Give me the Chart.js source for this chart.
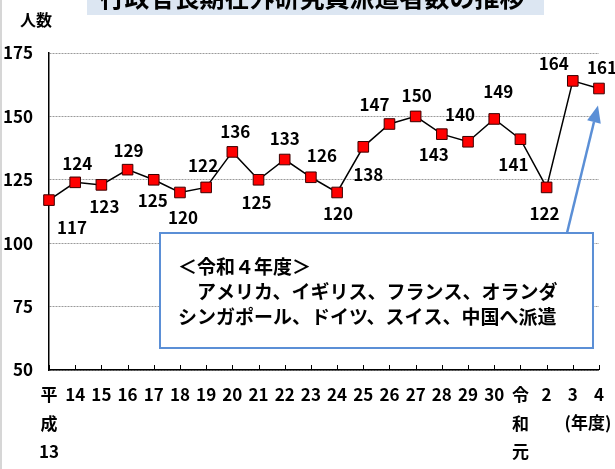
<!DOCTYPE html>
<html>
<head>
<meta charset="utf-8">
<script src="https://cdn.jsdelivr.net/npm/chart.js@4.4.1/dist/chart.umd.min.js"></script>
<style>
  body { margin: 0; background: #fff; }
  canvas { display: block; }
</style>
</head>
<body>
<canvas id="chart" width="615" height="469"></canvas>
<script>
const YEAR_LABELS = [
  ["平", "成", "13"], "14", "15", "16", "17", "18", "19", "20", "21", "22", "23",
  "24", "25", "26", "27", "28", "29", "30", ["令", "和", "元"], "2", "3", "4",
];
const DISPATCHED = [117, 124, 123, 129, 125, 120, 122, 136, 125, 133, 126, 120, 138, 147, 150, 143, 140, 149, 141, 122, 164, 161];
const Y_TICKS = [50, 75, 100, 125, 150, 175];

const TITLE = "行政官長期在外研究員派遣者数の推移";
const Y_UNIT = "人数";
const X_UNIT = "(年度)";
const NOTE_LINES = [
  "＜令和４年度＞",
  "　アメリカ、イギリス、フランス、オランダ",
  "シンガポール、ドイツ、スイス、中国へ派遣",
];

// where each value label sits relative to its marker (px)
const LABEL_OFFSETS = [
  [23, 27], [2, -19], [3, 22], [1, -19], [-1, 21], [3, 25], [-3, -22], [3, -20],
  [-2, 23], [0, -21], [11, -22], [1, 21], [5, 28], [-15, -19], [1, -21], [-8, 20],
  [-8, -27], [4, -27], [-7, 25], [-2, 26], [-19, -17], [3, -21],
];

const NUM_FONT = "'Liberation Sans Narrow', 'Noto Sans CJK JP', sans-serif";
const JP_FONT = "'Noto Sans CJK JP', sans-serif";
const NOTE_BLUE = "#5b8fd6";

const decorPlugin = {
  id: "decor",
  beforeDraw(chart) {
    const ctx = chart.ctx;
    ctx.save();
    ctx.fillStyle = "#d6d6d6";
    ctx.fillRect(0, 0, 2, chart.height);

    // title band, cut off at the top like the source
    ctx.fillStyle = "#dce6f2";
    ctx.fillRect(87, 0, 457, 15);
    ctx.fillStyle = "#000";
    ctx.font = `bold 25px ${JP_FONT}`;
    ctx.textAlign = "center";
    ctx.textBaseline = "middle";
    ctx.fillText(TITLE, 312, -3);

    ctx.font = `bold 16px ${JP_FONT}`;
    ctx.fillText(Y_UNIT, 36, 20);
    ctx.restore();
  },
  afterDatasetsDraw(chart) {
    const ctx = chart.ctx;
    const area = chart.chartArea;
    const xScale = chart.scales.x;
    const points = chart.getDatasetMeta(0).data;
    ctx.save();

    // tick marks point up into the plot
    ctx.strokeStyle = "#000";
    ctx.lineWidth = 1;
    ctx.beginPath();
    YEAR_LABELS.forEach((_, i) => {
      const x = Math.round(xScale.getPixelForValue(i)) + 0.5;
      ctx.moveTo(x, area.bottom);
      ctx.lineTo(x, area.bottom - 5);
    });
    ctx.stroke();

    // value labels
    ctx.fillStyle = "#000";
    ctx.font = `bold 17px ${NUM_FONT}`;
    ctx.textAlign = "center";
    ctx.textBaseline = "middle";
    points.forEach((pt, i) => {
      const [dx, dy] = LABEL_OFFSETS[i];
      ctx.fillText(String(DISPATCHED[i]), pt.x + dx, pt.y + dy);
    });

    // note box
    const boxLeft = area.left + 111;
    const boxRight = area.right - 6;
    const boxTop = 233;
    const boxBottom = 348;
    ctx.fillStyle = "#fff";
    ctx.fillRect(boxLeft, boxTop, boxRight - boxLeft, boxBottom - boxTop);
    ctx.strokeStyle = NOTE_BLUE;
    ctx.lineWidth = 2;
    ctx.strokeRect(boxLeft, boxTop, boxRight - boxLeft, boxBottom - boxTop);

    ctx.fillStyle = "#000";
    ctx.font = `bold 19px ${JP_FONT}`;
    ctx.textAlign = "left";
    const lineYs = [267, 292, 317];
    NOTE_LINES.forEach((line, i) => ctx.fillText(line, boxLeft + 18, lineYs[i]));

    // arrow from the box to the latest year
    const last = points[points.length - 1];
    const tipX = last.x - 1;
    const tipY = last.y + 17;
    const tailX = boxRight - 26;
    const tailY = boxTop;
    const ang = Math.atan2(tipY - tailY, tipX - tailX);
    const headLen = 17;
    const headHalf = 7;
    const baseX = tipX - headLen * Math.cos(ang);
    const baseY = tipY - headLen * Math.sin(ang);
    ctx.strokeStyle = NOTE_BLUE;
    ctx.lineWidth = 2.5;
    ctx.beginPath();
    ctx.moveTo(tailX, tailY);
    ctx.lineTo(baseX, baseY);
    ctx.stroke();
    ctx.fillStyle = NOTE_BLUE;
    ctx.beginPath();
    ctx.moveTo(tipX, tipY);
    ctx.lineTo(baseX + headHalf * Math.sin(ang), baseY - headHalf * Math.cos(ang));
    ctx.lineTo(baseX - headHalf * Math.sin(ang), baseY + headHalf * Math.cos(ang));
    ctx.closePath();
    ctx.fill();

    // fiscal year unit under the last category
    ctx.fillStyle = "#000";
    ctx.font = `bold 17px ${JP_FONT}`;
    ctx.textAlign = "center";
    ctx.fillText(X_UNIT, 588, 423);
    ctx.restore();
  },
};

new Chart(document.getElementById("chart"), {
  type: "line",
  data: {
    labels: YEAR_LABELS,
    datasets: [
      {
        data: DISPATCHED,
        borderColor: "#000",
        borderWidth: 1.5,
        pointStyle: "rect",
        pointRadius: 7.5,
        pointBackgroundColor: "#ff0000",
        pointBorderColor: "#3a0000",
        pointBorderWidth: 1,
        tension: 0,
      },
    ],
  },
  options: {
    responsive: false,
    animation: false,
    devicePixelRatio: 1,
    layout: { padding: { top: 53, right: 16, left: 0, bottom: 0 } },
    plugins: { legend: { display: false }, tooltip: { enabled: false } },
    scales: {
      x: {
        type: "category",
        offset: false,
        afterFit: (scale) => { scale.height = 99; },
        grid: { drawOnChartArea: false, drawTicks: false },
        border: { display: true, color: "#000", width: 1.5 },
        ticks: {
          autoSkip: false,
          maxRotation: 0,
          padding: 11,
          color: "#000",
          font: { family: NUM_FONT, size: 17, weight: "bold", lineHeight: 1.65 },
        },
      },
      y: {
        min: 50,
        max: 175,
        afterBuildTicks: (scale) => { scale.ticks = Y_TICKS.map((v) => ({ value: v })); },
        afterFit: (scale) => { scale.width = 49; },
        grid: { color: "#9a9a9a", lineWidth: 1, drawTicks: false },
        border: { display: true, color: "#000", width: 1.5, dash: [2, 1] },
        ticks: {
          padding: 16,
          color: "#000",
          font: { family: NUM_FONT, size: 17, weight: "bold" },
        },
      },
    },
  },
  plugins: [decorPlugin],
});
</script>
</body>
</html>
